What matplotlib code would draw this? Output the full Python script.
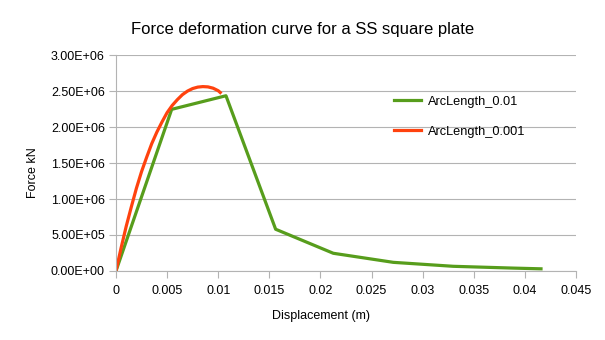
import matplotlib
matplotlib.use("Agg")
import matplotlib.pyplot as plt
from matplotlib.ticker import FuncFormatter

plt.rcParams['font.family'] = ['Liberation Sans', 'DejaVu Sans']

# ArcLength_0.01 (green)
x_coarse = [0, 0.00545, 0.01076, 0.01562, 0.02126, 0.02713, 0.0330, 0.03887, 0.04158]
y_coarse = [0, 2.246e6, 2.435e6, 0.58e6, 0.246e6, 0.12e6, 0.065e6, 0.04e6, 0.03e6]

# ArcLength_0.001 (red)
x_fine = [0, 0.0005, 0.001, 0.0015, 0.002, 0.0025, 0.003, 0.0035, 0.004, 0.0045, 0.005,
          0.0055, 0.006, 0.0065, 0.007, 0.0075, 0.008, 0.0085, 0.009, 0.0095, 0.0100, 0.0102]
y_fine = [0, 0.32e6, 0.62e6, 0.89e6, 1.15e6, 1.38e6, 1.58e6, 1.77e6, 1.93e6, 2.07e6, 2.2e6,
          2.30e6, 2.38e6, 2.45e6, 2.5e6, 2.535e6, 2.555e6, 2.562e6, 2.558e6, 2.54e6, 2.505e6, 2.48e6]

xticks = [0, 0.005, 0.01, 0.015, 0.02, 0.025, 0.03, 0.035, 0.04, 0.045]
yticks = [0, 0.5e6, 1.0e6, 1.5e6, 2.0e6, 2.5e6, 3.0e6]

fig = plt.figure(figsize=(6.05, 3.4), dpi=100)
ax = fig.add_axes([0.1917, 0.203, 0.7603, 0.635])

ax.plot(x_coarse, y_coarse, color='#579d1c', lw=2.3, label='ArcLength_0.01')
ax.plot(x_fine, y_fine, color='#ff420e', lw=2.3, label='ArcLength_0.001')

ax.set_xlim(0, 0.045)
ax.set_ylim(0, 3.0e6)
ax.set_xticks(xticks)
ax.set_yticks(yticks)
ax.set_xticklabels(['0'] + ['%g' % v for v in xticks[1:]])
ax.yaxis.set_major_formatter(FuncFormatter(lambda v, p: '%.2E' % v))

ax.grid(axis='y', color='#b3b3b3', lw=0.8)
ax.set_axisbelow(True)
for s in ['top', 'right']:
    ax.spines[s].set_visible(False)
ax.spines['left'].set_color('#b3b3b3')
ax.spines['bottom'].set_color('#b3b3b3')
ax.tick_params(axis='both', labelsize=9, colors='#b3b3b3', labelcolor='black', length=5)
ax.tick_params(axis='x', pad=5)
ax.tick_params(axis='y', pad=3)

ax.set_xlabel('Displacement (m)', fontsize=9)
ax.xaxis.set_label_coords(0.446, -0.18)
ax.set_ylabel('Force kN', fontsize=9)
ax.yaxis.set_label_coords(-0.168, 0.454)
fig.suptitle('Force deformation curve for a SS square plate', fontsize=12, x=0.5, y=0.935)

ax.legend(loc='upper left', bbox_to_anchor=(0.58, 0.865), frameon=False, fontsize=9.2,
          handlelength=2.1, labelspacing=1.4, handletextpad=0.5)

fig.savefig('out.png', dpi=100)
